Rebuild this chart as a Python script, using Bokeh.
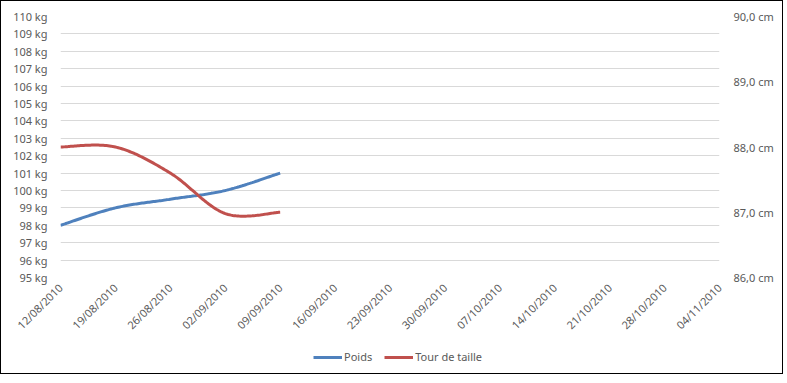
import numpy as np
import pandas as pd
from math import pi
from bokeh.plotting import figure
from bokeh.layouts import column
from bokeh.models import (Range1d, LinearAxis, FixedTicker, DatetimeTickFormatter,
                          CustomJSTickFormatter, PrintfTickFormatter, Legend, LegendItem)
from bokeh.embed import file_html
from bokeh.resources import INLINE

# ---- data ----
dates = ["2010-08-12", "2010-08-19", "2010-08-26", "2010-09-02", "2010-09-09"]
poids_kg = [98.0, 99.0, 99.5, 100.0, 101.0]
tour_cm = [88.0, 88.0, 87.6, 86.98, 87.0]
tick_dates = pd.date_range("2010-08-12", "2010-11-04", freq="7D")
kg_ticks = list(range(95, 111))
cm_ticks = [86.0, 87.0, 88.0, 89.0, 90.0]
series_names = ["Poids", "Tour de taille"]

BLUE = "#4F81BD"
RED = "#C0504D"
TXT = "#595959"
FONT = "Noto Sans"


def smooth(xs, ys, n=40):
    xs = np.asarray(xs, float)
    ys = np.asarray(ys, float)
    px = np.concatenate([[xs[0]], xs, [xs[-1]]])
    py = np.concatenate([[ys[0]], ys, [ys[-1]]])
    ox, oy = [], []
    t = np.linspace(0, 1, n)
    for i in range(len(xs) - 1):
        x0, x1, x2, x3 = px[i], px[i + 1], px[i + 2], px[i + 3]
        y0, y1, y2, y3 = py[i], py[i + 1], py[i + 2], py[i + 3]
        cx1, cy1 = x1 + (x2 - x0) / 6, y1 + (y2 - y0) / 6
        cx2, cy2 = x2 - (x3 - x1) / 6, y2 - (y3 - y1) / 6
        bx = (1 - t) ** 3 * x1 + 3 * (1 - t) ** 2 * t * cx1 + 3 * (1 - t) * t ** 2 * cx2 + t ** 3 * x2
        by = (1 - t) ** 3 * y1 + 3 * (1 - t) ** 2 * t * cy1 + 3 * (1 - t) * t ** 2 * cy2 + t ** 3 * y2
        if i > 0:
            bx, by = bx[1:], by[1:]
        ox.extend(bx)
        oy.extend(by)
    return np.array(ox), np.array(oy)


x_ms = (pd.to_datetime(dates).astype("int64") // 10**6).astype(float).values
tick_ms = [float(v) for v in (tick_dates.astype("int64") // 10**6)]

p = figure(x_axis_type="datetime", frame_width=659, frame_height=261,
           x_range=Range1d(tick_ms[0], tick_ms[-1]), y_range=Range1d(95, 110),
           output_backend="svg", toolbar_location=None,
           min_border_left=59, min_border_right=63, min_border_top=15, min_border_bottom=0)
p.extra_y_ranges = {"cm": Range1d(86, 90)}
p.outline_line_color = None
p.background_fill_color = "white"
p.border_fill_color = "white"

# grid
p.xgrid.visible = False
p.ygrid.ticker = FixedTicker(ticks=kg_ticks)
p.ygrid.grid_line_color = "#D9D9D9"
p.ygrid.grid_line_width = 1

# left axis
ya = p.yaxis[0]
ya.ticker = FixedTicker(ticks=kg_ticks)
ya.formatter = PrintfTickFormatter(format="%d kg")

# right axis
ra = LinearAxis(y_range_name="cm", ticker=FixedTicker(ticks=cm_ticks),
                formatter=CustomJSTickFormatter(code="return tick.toFixed(1).replace('.', ',') + ' cm';"))
p.add_layout(ra, "right")

# x axis
xa = p.xaxis[0]
xa.ticker = FixedTicker(ticks=tick_ms)
fmt = "%d/%m/%Y"
xa.formatter = DatetimeTickFormatter(days=fmt, months=fmt, years=fmt, hours=fmt,
                                     hourmin=fmt, minutes=fmt, minsec=fmt, seconds=fmt,
                                     milliseconds=fmt, microseconds=fmt)
xa.major_label_orientation = pi / 4
xa.axis_label = None

for ax in [ya, ra, xa]:
    ax.axis_line_color = None
    ax.major_tick_line_color = None
    ax.minor_tick_line_color = None
    ax.major_tick_out = 0
    ax.major_tick_in = 0
    ax.minor_tick_out = 0
    ax.minor_tick_in = 0
    ax.major_label_text_color = TXT
    ax.major_label_text_font = FONT
    ax.major_label_text_font_size = "11px"
ya.major_label_standoff = 13
ra.major_label_standoff = 14
xa.major_label_standoff = 8

sx, sy = smooth(x_ms, poids_kg)
rx, ry = smooth(x_ms, tour_cm)
l1 = p.line(sx, sy, line_color=BLUE, line_width=3)
l2 = p.line(rx, ry, line_color=RED, line_width=3, y_range_name="cm")

# ---- legend strip (separate figure below the chart) ----
lg = figure(width=p.frame_width + 59 + 63, height=33, x_range=Range1d(0, 1), y_range=Range1d(0, 1),
            output_backend="svg", toolbar_location=None,
            x_axis_location=None, y_axis_location=None,
            min_border_left=0, min_border_right=0, min_border_top=0, min_border_bottom=0)
lg.outline_line_color = None
lg.xgrid.visible = False
lg.ygrid.visible = False
lg.border_fill_color = "white"
# same series drawn out of this strip's view, only so the legend can show their line style
d1 = lg.line(sx, sy, line_color=BLUE, line_width=3)
d2 = lg.line(rx, ry, line_color=RED, line_width=3)

legend = Legend(items=[LegendItem(label=series_names[0], renderers=[d1]),
                       LegendItem(label=series_names[1], renderers=[d2])],
                location=(253, 9), orientation="horizontal")
legend.border_line_color = None
legend.background_fill_alpha = 0
legend.label_text_font = FONT
legend.label_text_font_size = "11px"
legend.label_text_color = TXT
legend.glyph_width = 29
legend.glyph_height = 14
legend.label_height = 14
legend.label_standoff = 2
legend.spacing = 12
legend.margin = 0
legend.padding = 0
lg.add_layout(legend, "center")

layout = column(p, lg, spacing=0, styles={"border": "1px solid #000000"})

open("out.html", "w").write(file_html(layout, INLINE))
